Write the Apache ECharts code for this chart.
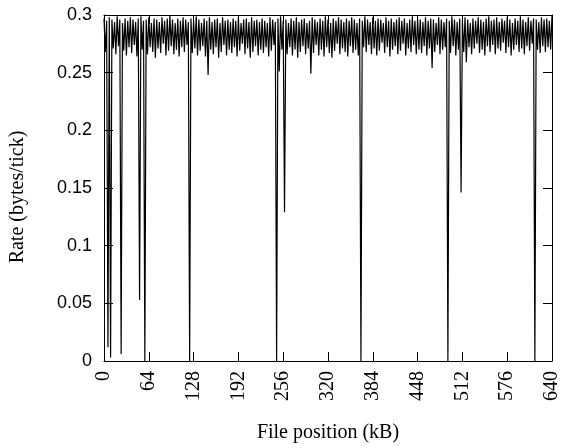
<!DOCTYPE html>
<html>
<head>
<meta charset="utf-8">
<script src="https://cdn.jsdelivr.net/npm/echarts@6/dist/echarts.min.js"></script>
<style>
  html, body { margin: 0; padding: 0; background: #fff; }
  #chart { width: 562px; height: 448px; }
</style>
</head>
<body>
<div id="chart"></div>
<script>
// Transfer rate across the file: the stream alternates between a local
// maximum and a local minimum; a few blocks stall almost to zero.
const fileSpanKB = 640;
const xTicksKB = [0, 64, 128, 192, 256, 320, 384, 448, 512, 576, 640];
const yTicks = [0, 0.05, 0.1, 0.15, 0.2, 0.25, 0.3];

// local maxima (bytes/tick)
const peakRate = [
  0.297, 0.295, 0.298, 0.296, 0.294, 0.299, 0.296, 0.293, 0.297, 0.295,
  0.298, 0.296, 0.294, 0.297, 0.299, 0.295, 0.296, 0.298, 0.293, 0.297,
  0.296, 0.294, 0.298, 0.295, 0.297, 0.300, 0.296, 0.293, 0.297, 0.295,
  0.298, 0.296, 0.294, 0.297, 0.295, 0.299, 0.296, 0.293, 0.297, 0.295,
  0.298, 0.294, 0.296, 0.297, 0.293, 0.298, 0.295, 0.296, 0.294, 0.297,
  0.295, 0.298, 0.293, 0.296, 0.297, 0.294, 0.298, 0.295, 0.296, 0.294,
  0.297, 0.295, 0.293, 0.298, 0.296, 0.294, 0.297, 0.299, 0.295, 0.296,
  0.293, 0.297, 0.295, 0.298, 0.294, 0.296, 0.297, 0.293, 0.295, 0.298,
  0.296, 0.294, 0.297, 0.295, 0.299, 0.296, 0.293, 0.297, 0.295, 0.298,
  0.296, 0.294, 0.297, 0.295, 0.298, 0.296, 0.293, 0.297, 0.295, 0.299,
  0.296, 0.294, 0.298, 0.295, 0.297, 0.296, 0.293, 0.298, 0.295, 0.297,
  0.294, 0.296, 0.298, 0.295, 0.297, 0.293, 0.296, 0.299, 0.295, 0.297,
  0.296, 0.294, 0.298, 0.295, 0.297, 0.296, 0.293, 0.298, 0.296, 0.294,
  0.297, 0.295, 0.299, 0.296, 0.294, 0.297, 0.295, 0.298, 0.296, 0.293,
  0.297, 0.295, 0.298, 0.296, 0.294, 0.297, 0.299, 0.295, 0.296, 0.298,
  0.294, 0.297, 0.295, 0.298, 0.296, 0.293, 0.297, 0.295, 0.299, 0.296,
  0.294, 0.298, 0.295, 0.297, 0.296, 0.294, 0.298, 0.296, 0.297, 0.295,
  0.300
];

// local minima (bytes/tick), one between each pair of maxima
const troughRate = [
  0.268, 0.012, 0.003, 0.271, 0.266, 0.273, 0.006, 0.269, 0.265, 0.272,
  0.267, 0.274, 0.264, 0.053, 0.270, 0.000, 0.266, 0.272, 0.268, 0.263,
  0.271, 0.267, 0.275, 0.265, 0.269, 0.273, 0.266, 0.270, 0.264, 0.272,
  0.268, 0.274, 0.000, 0.267, 0.271, 0.265, 0.269, 0.273, 0.264, 0.248,
  0.270, 0.266, 0.272, 0.263, 0.268, 0.274, 0.265, 0.270, 0.267, 0.272,
  0.264, 0.269, 0.275, 0.266, 0.271, 0.263, 0.268, 0.273, 0.265, 0.270,
  0.267, 0.272, 0.264, 0.269, 0.274, 0.000, 0.251, 0.270, 0.129, 0.266,
  0.272, 0.265, 0.270, 0.263, 0.268, 0.273, 0.266, 0.271, 0.249, 0.267,
  0.274, 0.265, 0.270, 0.264, 0.272, 0.267, 0.263, 0.269, 0.275, 0.266,
  0.271, 0.268, 0.264, 0.273, 0.267, 0.270, 0.265, 0.000, 0.272, 0.268,
  0.274, 0.266, 0.271, 0.265, 0.269, 0.276, 0.267, 0.272, 0.264, 0.270,
  0.273, 0.266, 0.269, 0.275, 0.265, 0.271, 0.268, 0.274, 0.266, 0.270,
  0.267, 0.273, 0.265, 0.271, 0.254, 0.268, 0.274, 0.266, 0.270, 0.272,
  0.000, 0.267, 0.273, 0.265, 0.270, 0.146, 0.268, 0.259, 0.272, 0.266,
  0.271, 0.275, 0.267, 0.270, 0.265, 0.273, 0.268, 0.274, 0.266, 0.271,
  0.269, 0.276, 0.267, 0.272, 0.265, 0.270, 0.274, 0.268, 0.271, 0.266,
  0.273, 0.269, 0.275, 0.000, 0.270, 0.267, 0.273, 0.268, 0.272, 0.270
];

// interleave maxima and minima along evenly spaced file offsets
const sampleCount = peakRate.length + troughRate.length;
const stepKB = fileSpanKB / (sampleCount - 1);
const ratePoints = [];
for (let i = 0; i < sampleCount; i++) {
  const rate = i % 2 === 0 ? peakRate[i / 2] : troughRate[(i - 1) / 2];
  ratePoints.push([i * stepKB, rate]);
}

const serif = 'Liberation Serif, Times New Roman, serif';
const sans = 'Liberation Sans, Arial, sans-serif';
const black = '#000';

const frameLine = { show: true, onZero: false, lineStyle: { color: black, width: 1 } };
const innerTick = { show: true, inside: true, length: 9, lineStyle: { color: black, width: 1 } };

const chart = echarts.init(document.getElementById('chart'), null, { renderer: 'canvas' });
chart.setOption({
  animation: false,
  backgroundColor: '#fff',
  grid: { left: 103, right: 6, top: 15, bottom: 87, containLabel: false },
  xAxis: [
    {
      type: 'value',
      position: 'bottom',
      min: xTicksKB[0],
      max: xTicksKB[xTicksKB.length - 1],
      interval: xTicksKB[1] - xTicksKB[0],
      axisLine: frameLine,
      axisTick: innerTick,
      splitLine: { show: false },
      axisLabel: {
        rotate: 90,
        margin: 10,
        color: black,
        fontFamily: serif,
        fontSize: 20
      },
      name: 'File position (kB)',
      nameLocation: 'middle',
      nameGap: 62,
      nameTextStyle: { color: black, fontFamily: serif, fontSize: 20 }
    },
    {
      type: 'value',
      position: 'top',
      min: xTicksKB[0],
      max: xTicksKB[xTicksKB.length - 1],
      interval: xTicksKB[1] - xTicksKB[0],
      axisLine: frameLine,
      axisTick: innerTick,
      axisLabel: { show: false },
      splitLine: { show: false }
    }
  ],
  yAxis: [
    {
      type: 'value',
      position: 'left',
      min: yTicks[0],
      max: yTicks[yTicks.length - 1],
      interval: yTicks[1] - yTicks[0],
      axisLine: frameLine,
      axisTick: innerTick,
      splitLine: { show: false },
      axisLabel: {
        margin: 12,
        color: black,
        fontFamily: sans,
        fontSize: 18
      },
      name: 'Rate (bytes/tick)',
      nameLocation: 'middle',
      nameRotate: 90,
      nameGap: 76,
      nameTextStyle: { color: black, fontFamily: serif, fontSize: 20, padding: [0, 18, 0, 0] }
    },
    {
      type: 'value',
      position: 'right',
      min: yTicks[0],
      max: yTicks[yTicks.length - 1],
      interval: yTicks[1] - yTicks[0],
      axisLine: frameLine,
      axisTick: innerTick,
      axisLabel: { show: false },
      splitLine: { show: false }
    }
  ],
  series: [
    {
      type: 'line',
      xAxisIndex: 0,
      yAxisIndex: 0,
      data: ratePoints,
      showSymbol: false,
      symbol: 'none',
      sampling: null,
      lineStyle: { color: black, width: 1.2 },
      emphasis: { disabled: true }
    }
  ]
});
</script>
</body>
</html>
